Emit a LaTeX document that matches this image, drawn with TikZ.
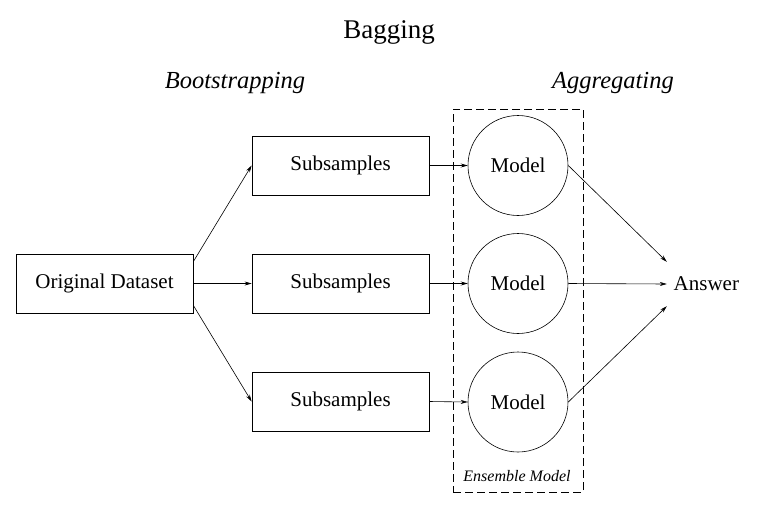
\documentclass[tikz,border=0pt]{standalone}
\usepackage{fontspec}
\setmainfont{Liberation Serif}
\usetikzlibrary{arrows.meta,calc}
\begin{document}
\begin{tikzpicture}[x=1pt,y=-1pt,
  lbl/.style={font=\fontsize{21}{25}\selectfont},
  box/.style={draw,line width=0.8pt,minimum width=177pt,minimum height=59pt,inner sep=0pt,lbl},
  model/.style={draw,circle,line width=0.6pt,minimum size=100pt,inner sep=0pt,lbl},
  arr/.style={line width=0.6pt,-{Stealth[length=7pt,width=4pt]}},
  phase/.style={font=\itshape\fontsize{24.5}{28}\selectfont,anchor=base}]
\useasboundingbox (0,0) rectangle (782,507);
\node[anchor=base,font=\fontsize{27}{32}\selectfont] (title) at (389,38) {Bagging};
\node[phase] (boot) at (235,88) {Bootstrapping};
\node[phase] (aggr) at (613,88) {Aggregating};
\node[draw,dashed,dash pattern=on 8pt off 4pt,line width=0.8pt,minimum width=130pt,minimum height=383pt,inner sep=0pt] (ens) at (518,300.5) {};
\node[font=\itshape\fontsize{16}{19}\selectfont] (enslbl) at (517,476) {Ensemble Model};
\node[box] (orig) at (104.5,283.5) {Original Dataset};
\node[box] (s1) at (340.5,165.5) {Subsamples};
\node[box] (s2) at (340.5,283.5) {Subsamples};
\node[box] (s3) at (340.5,401.5) {Subsamples};
\node[model] (m1) at (518,165.5) {Model};
\node[model] (m2) at (518,283.5) {Model};
\node[model] (m3) at (518,402) {Model};
\node[lbl,minimum height=44pt,inner sep=0pt,text width=72pt,align=right] (ans) at (703,284) {Answer};
\coordinate (o1) at ($(orig.east)+(0,-22)$);
\coordinate (o3) at ($(orig.east)+(0,22)$);
\draw[arr] (o1) -- (s1.west);
\draw[arr] (orig.east) -- (s2.west);
\draw[arr] (o3) -- (s3.west);
\draw[arr] (s1.east) -- (m1.west);
\draw[arr] (s2.east) -- (m2.west);
\draw[arr] (s3.east) -- (m3.west);
\draw[arr] (m1.east) -- (ans.north west);
\draw[arr] (m2.east) -- (ans.west);
\draw[arr] (m3.east) -- (ans.south west);
\end{tikzpicture}
\end{document}
